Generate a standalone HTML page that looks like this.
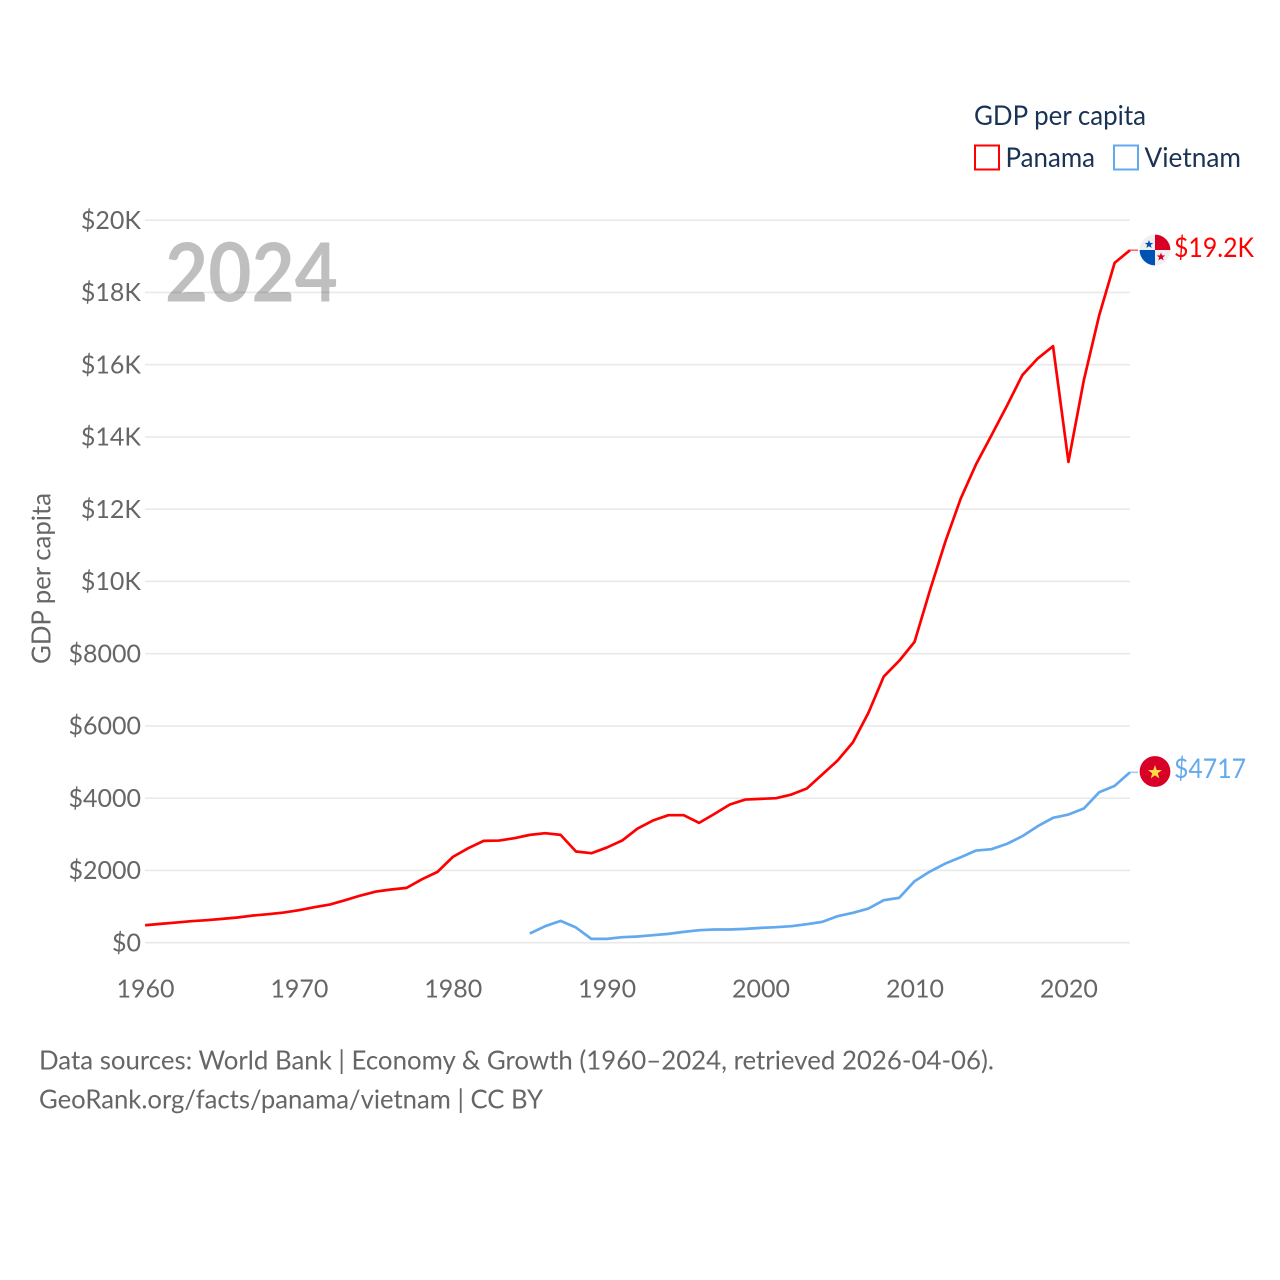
<!DOCTYPE html>
<html lang="en">
<head>
<meta charset="utf-8">
<title>GDP per capita: Panama and Vietnam</title>
<style>
html,body{margin:0;padding:0;background:#fff;}
svg{display:block;}
text{font-family:"Lato","Carlito","Liberation Sans",sans-serif;}
</style>
</head>
<body>
<svg id="chart" xmlns="http://www.w3.org/2000/svg" width="1280" height="1280" viewBox="0 0 1280 1280">
  <defs>
    <clipPath id="flag-clip-panama"><circle cx="1155" cy="250" r="15.4"/></clipPath>
  </defs>
  <g id="grid"></g>
  <g id="y-ticks"></g>
  <g id="x-ticks"></g>
  <text x="165" y="301.5" font-size="81" font-weight="700" fill="#000" fill-opacity="0.25" textLength="173" lengthAdjust="spacingAndGlyphs">2024</text>
  <text transform="translate(50.5,664) rotate(-90)" font-size="26" fill="#666" textLength="171" lengthAdjust="spacingAndGlyphs">GDP per capita</text>
  <g id="series"></g>

  <g clip-path="url(#flag-clip-panama)">
    <rect x="1139" y="234" width="32" height="32" fill="#f0f0f0"/>
    <rect x="1155" y="234" width="16" height="16" fill="#d80027"/>
    <rect x="1139" y="250" width="16" height="16" fill="#0052b4"/>
    <polygon transform="translate(0,0.5)" fill="#0052b4" points="1149,239.5 1150.1,242.4 1153.2,242.5 1150.8,244.4 1151.6,247.4 1149,245.7 1146.4,247.4 1147.2,244.4 1144.8,242.5 1147.9,242.4"/>
    <polygon transform="translate(0,-1)" fill="#d80027" points="1161,253.5 1162.1,256.4 1165.2,256.5 1162.8,258.4 1163.6,261.4 1161,259.7 1158.4,261.4 1159.2,258.4 1156.8,256.5 1159.9,256.4"/>
  </g>
  <g>
    <circle cx="1155" cy="771.5" r="15.4" fill="#d80027"/>
    <polygon transform="translate(0,1)" fill="#ffda44" points="1155,764 1156.7,769 1162,769.1 1157.8,772.3 1159.3,777.4 1155,774.4 1150.7,777.4 1152.2,772.3 1148,769.1 1153.3,769"/>
  </g>
  <text id="label-panama" x="1174" y="257" font-size="27" fill="#ff0000" textLength="80" lengthAdjust="spacingAndGlyphs">$19.2K</text>
  <text id="label-vietnam" x="1174" y="778" font-size="27" fill="#63a9ee" textLength="72" lengthAdjust="spacingAndGlyphs">$4717</text>

  <g>
    <text x="974" y="125" font-size="27" fill="#1a3355" textLength="172" lengthAdjust="spacingAndGlyphs">GDP per capita</text>
    <g>
      <rect x="975" y="145.5" width="24" height="24" fill="none" stroke="#ff0000" stroke-width="2"/>
      <text x="1005.5" y="167" font-size="27" fill="#1a3355" textLength="89.5" lengthAdjust="spacingAndGlyphs">Panama</text>
    </g>
    <g>
      <rect x="1114" y="145.5" width="24" height="24" fill="none" stroke="#63a9ee" stroke-width="2"/>
      <text x="1144.5" y="167" font-size="27" fill="#1a3355" textLength="96.5" lengthAdjust="spacingAndGlyphs">Vietnam</text>
    </g>
  </g>

  <text x="39" y="1069.5" font-size="26.5" fill="#666" textLength="955" lengthAdjust="spacingAndGlyphs">Data sources: World Bank | Economy &amp; Growth (1960–2024, retrieved 2026-04-06).</text>
  <text x="39" y="1108.5" font-size="26.5" fill="#666" textLength="504" lengthAdjust="spacingAndGlyphs">GeoRank.org/facts/panama/vietnam | CC BY</text>
</svg>
<script>
var yTickValues = [0, 2000, 4000, 6000, 8000, 10000, 12000, 14000, 16000, 18000, 20000];
var yTickLabels = ["$0", "$2000", "$4000", "$6000", "$8000", "$10K", "$12K", "$14K", "$16K", "$18K", "$20K"];
var xTickYears = [1960, 1970, 1980, 1990, 2000, 2010, 2020];
var panamaStartYear = 1960;
var panamaValues = [484, 521, 558, 595, 623, 660, 697, 752, 789, 835, 900, 983, 1057, 1176, 1306, 1416, 1472, 1518, 1758, 1961, 2376, 2616, 2819, 2828, 2893, 2985, 3031, 2985, 2524, 2477, 2634, 2828, 3160, 3382, 3529, 3529, 3317, 3566, 3825, 3963, 3982, 4000, 4101, 4268, 4655, 5043, 5550, 6362, 7368, 7802, 8328, 9752, 11100, 12295, 13246, 14048, 14860, 15709, 16171, 16512, 13310, 15571, 17370, 18819, 19170];
var vietnamStartYear = 1985;
var vietnamValues = [254, 457, 604, 420, 106, 106, 152, 171, 208, 244, 300, 346, 365, 365, 383, 411, 429, 457, 512, 577, 734, 826, 946, 1176, 1241, 1702, 1970, 2191, 2367, 2551, 2588, 2736, 2948, 3225, 3456, 3548, 3714, 4166, 4341, 4717];

var SVG_NS = "http://www.w3.org/2000/svg";
function xScale(year) { return 145.1 + (year - 1960) * (1130 - 145.1) / 64; }
function yScale(value) { return 942.7 - value * (942.7 - 220.2) / 20000; }

var gridGroup = document.getElementById("grid");
var yTickGroup = document.getElementById("y-ticks");
var xTickGroup = document.getElementById("x-ticks");
var seriesGroup = document.getElementById("series");

yTickValues.forEach(function (value, i) {
  var line = document.createElementNS(SVG_NS, "line");
  
  
  line.setAttribute("x1", 145);
  line.setAttribute("x2", 1130);
  line.setAttribute("y1", yScale(value));
  line.setAttribute("y2", yScale(value));
  line.setAttribute("stroke", "#e9e9e9");
  line.setAttribute("stroke-width", "1.6");
  gridGroup.appendChild(line);

  var label = document.createElementNS(SVG_NS, "text");
  
  
  label.setAttribute("x", 141);
  label.setAttribute("y", yScale(value) + 8.7);
  label.setAttribute("text-anchor", "end");
  label.setAttribute("font-size", "25");
  label.setAttribute("fill", "#666");
  label.textContent = yTickLabels[i];
  yTickGroup.appendChild(label);
});

xTickYears.forEach(function (year) {
  var label = document.createElementNS(SVG_NS, "text");
  
  
  label.setAttribute("x", xScale(year) + 0.4);
  label.setAttribute("y", 997.5);
  label.setAttribute("text-anchor", "middle");
  label.setAttribute("font-size", "25");
  label.setAttribute("fill", "#666");
  label.textContent = String(year);
  xTickGroup.appendChild(label);
});

function seriesPoints(values, startYear) {
  return values.map(function (value, i) {
    return xScale(startYear + i).toFixed(2) + "," + yScale(value).toFixed(2);
  }).join(" ");
}

function drawConnector(values, color) {
  var last = values[values.length - 1];
  var connector = document.createElementNS(SVG_NS, "line");
  
  
  connector.setAttribute("x1", xScale(2024));
  connector.setAttribute("x2", 1138);
  connector.setAttribute("y1", yScale(last));
  connector.setAttribute("y2", yScale(last));
  connector.setAttribute("stroke", color);
  connector.setAttribute("stroke-opacity", "0.6");
  connector.setAttribute("stroke-width", "1.6");
  seriesGroup.appendChild(connector);
}

var panamaLine = document.createElementNS(SVG_NS, "polyline");


panamaLine.setAttribute("points", seriesPoints(panamaValues, panamaStartYear));
panamaLine.setAttribute("fill", "none");
panamaLine.setAttribute("stroke", "#ff0000");
panamaLine.setAttribute("stroke-width", "2.7");
panamaLine.setAttribute("stroke-linejoin", "round");
seriesGroup.appendChild(panamaLine);
drawConnector(panamaValues, "#ff0000");

var vietnamLine = document.createElementNS(SVG_NS, "polyline");


vietnamLine.setAttribute("points", seriesPoints(vietnamValues, vietnamStartYear));
vietnamLine.setAttribute("fill", "none");
vietnamLine.setAttribute("stroke", "#63a9ee");
vietnamLine.setAttribute("stroke-width", "2.7");
vietnamLine.setAttribute("stroke-linejoin", "round");
seriesGroup.appendChild(vietnamLine);
drawConnector(vietnamValues, "#63a9ee");
</script>
</body>
</html>
